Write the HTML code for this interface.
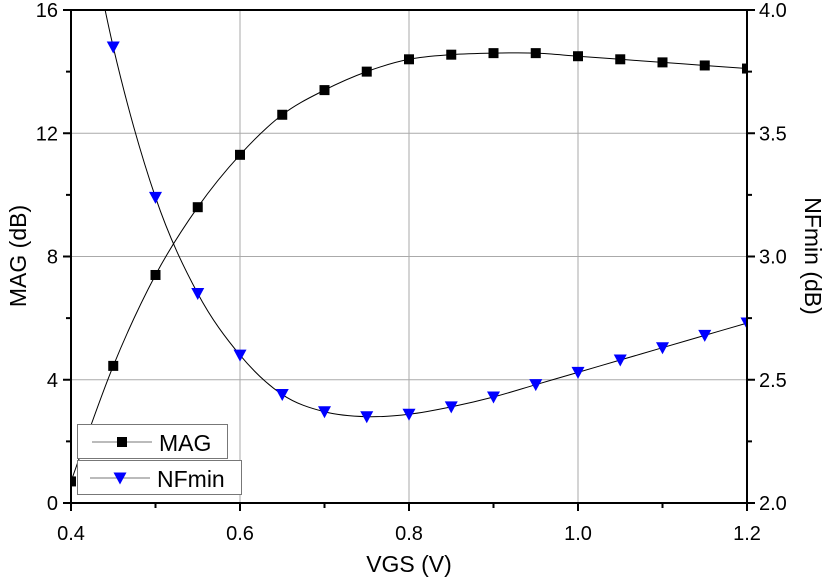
<!DOCTYPE html>
<html><head><meta charset="utf-8"><style>
body{margin:0;background:#fff;}
svg{display:block;font-family:"Liberation Sans",Arial,sans-serif;}
</style></head><body>
<svg id="chart" width="827" height="578"></svg>
<script>
const vgs=[0.4,0.45,0.5,0.55,0.6,0.65,0.7,0.75,0.8,0.85,0.9,0.95,1.0,1.05,1.1,1.15,1.2];
const mag=[0.7,4.45,7.4,9.6,11.3,12.6,13.4,14.0,14.4,14.55,14.6,14.6,14.5,14.4,14.3,14.2,14.1];
const nf=[4.7,3.85,3.24,2.85,2.6,2.44,2.37,2.35,2.36,2.39,2.43,2.48,2.53,2.58,2.63,2.68,2.73];
const xTicks=[0.4,0.6,0.8,1.0,1.2];
const yTicks=[0,4,8,12,16];
const y2Ticks=[2.0,2.5,3.0,3.5,4.0];
const L=71,R=747,T=10,B=503;
const sx=v=>L+(v-0.4)/0.8*(R-L);
const sy=v=>B-v/16*(B-T);
const sy2=v=>B-(v-2)/2*(B-T);
const svg=document.getElementById('chart');
const NS='http://www.w3.org/2000/svg';
function mk(tag,at,parent){const e=document.createElementNS(NS,tag);for(const k in at)e.setAttribute(k,at[k]);(parent||svg).appendChild(e);return e;}
const defs=mk('defs',{});const cp=mk('clipPath',{id:'cp'},defs);mk('rect',{x:L,y:T,width:R-L,height:B-T},cp);
xTicks.forEach(v=>{const g=mk('line',{x1:sx(v),x2:sx(v),y1:T,y2:B,stroke:'#aaa','stroke-width':1});
});
yTicks.forEach(v=>{const g=mk('line',{x1:L,x2:R,y1:sy(v),y2:sy(v),stroke:'#aaa','stroke-width':1});
});
function spline(pts){let d='M'+pts[0][0]+','+pts[0][1];for(let i=0;i<pts.length-1;i++){const p0=pts[i-1]||pts[i],p1=pts[i],p2=pts[i+1],p3=pts[i+2]||p2;
d+=' C'+(p1[0]+(p2[0]-p0[0])/6)+','+(p1[1]+(p2[1]-p0[1])/6)+' '+(p2[0]-(p3[0]-p1[0])/6)+','+(p2[1]-(p3[1]-p1[1])/6)+' '+p2[0]+','+p2[1];}return d;}
const plot=mk('g',{'clip-path':'url(#cp)'});

const mp=vgs.map((v,i)=>[sx(v),sy(mag[i])]);
const np=vgs.map((v,i)=>[sx(v),sy2(nf[i])]);
let l1=mk('path',{d:spline(mp),fill:'none',stroke:'#000','stroke-width':1},plot);

let l2=mk('path',{d:spline(np),fill:'none',stroke:'#000','stroke-width':1},plot);

mp.forEach(p=>{const r=mk('rect',{x:p[0]-5,y:p[1]-5,width:10,height:10,fill:'#000'},plot);
});
np.forEach(p=>{const r=mk('polygon',{points:(p[0]-6.5)+','+(p[1]-5.5)+' '+(p[0]+6.5)+','+(p[1]-5.5)+' '+p[0]+','+(p[1]+6.5),fill:'#00f'},plot);
});
mk('rect',{x:L,y:T,width:R-L,height:B-T,fill:'none',stroke:'#000','stroke-width':2});
xTicks.forEach((v,i)=>{mk('line',{x1:sx(v),x2:sx(v),y1:B,y2:B+8,stroke:'#000','stroke-width':2});
if(i<xTicks.length-1){const m=sx(v+0.1);mk('line',{x1:m,x2:m,y1:B,y2:B+5,stroke:'#000','stroke-width':2});}
const t=mk('text',{x:sx(v),y:B+37,'text-anchor':'middle','font-size':'20px'});t.textContent=v.toFixed(1);
});
yTicks.forEach((v,i)=>{mk('line',{x1:L-8,x2:L,y1:sy(v),y2:sy(v),stroke:'#000','stroke-width':2});
if(i<yTicks.length-1){const m=sy(v+2);mk('line',{x1:L-5,x2:L,y1:m,y2:m,stroke:'#000','stroke-width':2});}
const t=mk('text',{x:L-13,y:sy(v)+7,'text-anchor':'end','font-size':'20px'});t.textContent=v;
});
y2Ticks.forEach((v,i)=>{mk('line',{x1:R,x2:R+8,y1:sy2(v),y2:sy2(v),stroke:'#000','stroke-width':2});
if(i<y2Ticks.length-1){const m=sy2(v+0.25);mk('line',{x1:R,x2:R+5,y1:m,y2:m,stroke:'#000','stroke-width':2});}
const t=mk('text',{x:R+12,y:sy2(v)+7,'text-anchor':'start','font-size':'20px'});t.textContent=v.toFixed(1);
});
</script>
<svg width="827" height="578" style="position:absolute;left:0;top:0;font-family:'Liberation Sans',Arial,sans-serif">
<text x="409" y="572" text-anchor="middle" font-size="23px">VGS (V)</text>
<text transform="translate(26,256) rotate(-90)" text-anchor="middle" font-size="23px">MAG (dB)</text>
<text transform="translate(805,256) rotate(90)" text-anchor="middle" font-size="23px">NFmin (dB)</text>
<g>
<rect x="77.5" y="424.5" width="150" height="34" fill="#fff" stroke="#777"/>
<line x1="92" x2="152" y1="442" y2="442" stroke="#777"/>
<rect x="117" y="437" width="10" height="10" fill="#000"/>
<text x="159" y="451" font-size="23px">MAG</text></g>
<g>
<rect x="77.5" y="460.5" width="164" height="34" fill="#fff" stroke="#777"/>
<line x1="90" x2="150" y1="478" y2="478" stroke="#777"/>
<polygon points="113.5,472.5 126.5,472.5 120,484.5" fill="#00f"/>
<text x="157" y="487" font-size="23px">NFmin</text></g>
</svg>
</body></html>
